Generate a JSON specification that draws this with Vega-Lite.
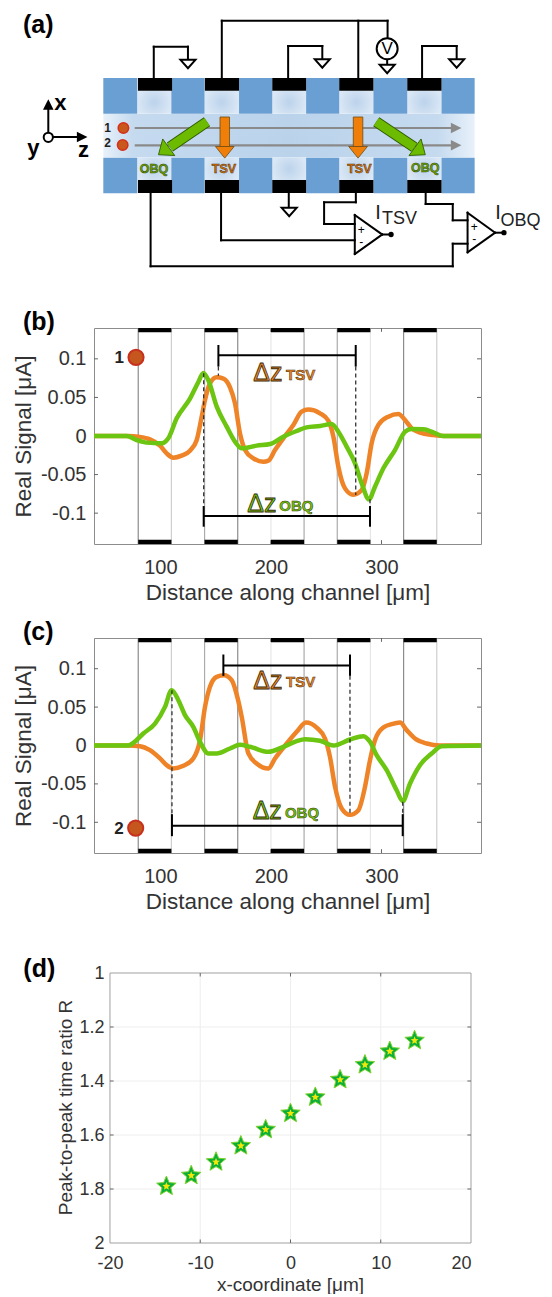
{
"$schema":"https://vega.github.io/schema/vega-lite/v6.json",
"padding":0,"bounds":"flush","spacing":94,
"config":{"font":"Liberation Sans","axis":{"grid":false,"domain":false,"ticks":false,"labelFont":"Liberation Sans","titleFont":"Liberation Sans","labelFontSize":20,"titleFontSize":22.5,"titleFontWeight":"normal","labelColor":"#333333","titleColor":"#333333","labelPadding":8}},
"datasets":{
"edges":[{"x":80,"x2":80,"y":-0.14,"y2":0.14,"tone":"dark"},{"x":110,"x2":110,"y":-0.14,"y2":0.14,"tone":"light"},{"x":140,"x2":140,"y":-0.14,"y2":0.14,"tone":"mid"},{"x":170,"x2":170,"y":-0.14,"y2":0.14,"tone":"dark"},{"x":200,"x2":200,"y":-0.14,"y2":0.14,"tone":"faint"},{"x":230,"x2":230,"y":-0.14,"y2":0.14,"tone":"mid"},{"x":260,"x2":260,"y":-0.14,"y2":0.14,"tone":"mid"},{"x":290,"x2":290,"y":-0.14,"y2":0.14,"tone":"faint"},{"x":320,"x2":320,"y":-0.14,"y2":0.14,"tone":"dark"},{"x":350,"x2":350,"y":-0.14,"y2":0.14,"tone":"light"}],
"bars":[{"x":80,"x2":110,"y":0.1345,"y2":0.14},{"x":140,"x2":170,"y":0.1345,"y2":0.14},{"x":200,"x2":230,"y":0.1345,"y2":0.14},{"x":260,"x2":290,"y":0.1345,"y2":0.14},{"x":320,"x2":350,"y":0.1345,"y2":0.14},{"x":80,"x2":110,"y":-0.14,"y2":-0.1345},{"x":140,"x2":170,"y":-0.14,"y2":-0.1345},{"x":200,"x2":230,"y":-0.14,"y2":-0.1345},{"x":260,"x2":290,"y":-0.14,"y2":-0.1345},{"x":320,"x2":350,"y":-0.14,"y2":-0.1345}],
"signalTicks":[{"x":40,"x2":43.6,"y":-0.1,"y2":-0.1},{"x":40,"x2":43.6,"y":-0.05,"y2":-0.05},{"x":40,"x2":43.6,"y":0,"y2":0},{"x":40,"x2":43.6,"y":0.05,"y2":0.05},{"x":40,"x2":43.6,"y":0.1,"y2":0.1},{"x":386.4,"x2":390,"y":-0.1,"y2":-0.1},{"x":386.4,"x2":390,"y":-0.05,"y2":-0.05},{"x":386.4,"x2":390,"y":0,"y2":0},{"x":386.4,"x2":390,"y":0.05,"y2":0.05},{"x":386.4,"x2":390,"y":0.1,"y2":0.1},{"x":100,"x2":100,"y":0.14,"y2":0.135},{"x":200,"x2":200,"y":0.14,"y2":0.135},{"x":300,"x2":300,"y":0.14,"y2":0.135},{"x":100,"x2":100,"y":-0.14,"y2":-0.135},{"x":200,"x2":200,"y":-0.14,"y2":-0.135},{"x":300,"x2":300,"y":-0.14,"y2":-0.135}],
"curveB":[
{"series":"TSV","x":40,"y":0},{"series":"TSV","x":71.05,"y":0},{"series":"TSV","x":80.1,"y":-0.0009},{"series":"TSV","x":90.6,"y":-0.0043},{"series":"TSV","x":99.7,"y":-0.0125},{"series":"TSV","x":105.7,"y":-0.0225},{"series":"TSV","x":111.8,"y":-0.0281},{"series":"TSV","x":119.3,"y":-0.0255},{"series":"TSV","x":126.8,"y":-0.019},{"series":"TSV","x":132.9,"y":-0.0052},{"series":"TSV","x":137.4,"y":0.0251},{"series":"TSV","x":140.4,"y":0.0467},{"series":"TSV","x":144.9,"y":0.0683},{"series":"TSV","x":150.9,"y":0.0761},{"series":"TSV","x":157,"y":0.0744},{"series":"TSV","x":163,"y":0.0631},{"series":"TSV","x":167.5,"y":0.0424},{"series":"TSV","x":172,"y":0.0035},{"series":"TSV","x":176.6,"y":-0.0182},{"series":"TSV","x":184.1,"y":-0.0289},{"series":"TSV","x":193.2,"y":-0.0333},{"series":"TSV","x":197.7,"y":-0.032},{"series":"TSV","x":203.7,"y":-0.0182},{"series":"TSV","x":211.2,"y":-0.003},{"series":"TSV","x":220.3,"y":0.0143},{"series":"TSV","x":227.8,"y":0.0316},{"series":"TSV","x":233.8,"y":0.0342},{"series":"TSV","x":244.4,"y":0.0294},{"series":"TSV","x":251.9,"y":0.0199},{"series":"TSV","x":256.5,"y":-0.0009},{"series":"TSV","x":261,"y":-0.0398},{"series":"TSV","x":267,"y":-0.0679},{"series":"TSV","x":274.5,"y":-0.0761},{"series":"TSV","x":282.1,"y":-0.0701},{"series":"TSV","x":286.6,"y":-0.0484},{"series":"TSV","x":291.1,"y":-0.0095},{"series":"TSV","x":297.2,"y":0.0143},{"series":"TSV","x":306.2,"y":0.0251},{"series":"TSV","x":315.2,"y":0.0285},{"series":"TSV","x":321.3,"y":0.0208},{"series":"TSV","x":327.3,"y":0.0099},{"series":"TSV","x":334.8,"y":0.0043},{"series":"TSV","x":346.9,"y":0.0013},{"series":"TSV","x":356,"y":0},{"series":"TSV","x":390,"y":0},
{"series":"OBQ","x":40,"y":0},{"series":"OBQ","x":69.5,"y":0},{"series":"OBQ","x":78.6,"y":-0.0052},{"series":"OBQ","x":87.6,"y":-0.0086},{"series":"OBQ","x":101.2,"y":-0.0095},{"series":"OBQ","x":107.2,"y":-0.003},{"series":"OBQ","x":114.8,"y":0.0229},{"series":"OBQ","x":126.8,"y":0.0484},{"series":"OBQ","x":134.4,"y":0.07},{"series":"OBQ","x":138.9,"y":0.0817},{"series":"OBQ","x":143.4,"y":0.0722},{"series":"OBQ","x":151,"y":0.0381},{"series":"OBQ","x":160,"y":0.0121},{"series":"OBQ","x":167.5,"y":-0.0073},{"series":"OBQ","x":173.6,"y":-0.016},{"series":"OBQ","x":187.1,"y":-0.0125},{"series":"OBQ","x":199.2,"y":-0.0104},{"series":"OBQ","x":211.2,"y":-0.0009},{"series":"OBQ","x":223.3,"y":0.0065},{"series":"OBQ","x":232.3,"y":0.0112},{"series":"OBQ","x":244.4,"y":0.013},{"series":"OBQ","x":254.9,"y":0.0156},{"series":"OBQ","x":261,"y":0.0056},{"series":"OBQ","x":268.5,"y":-0.0138},{"series":"OBQ","x":276.1,"y":-0.0354},{"series":"OBQ","x":282.1,"y":-0.0614},{"series":"OBQ","x":288.7,"y":-0.0821},{"series":"OBQ","x":294.1,"y":-0.0657},{"series":"OBQ","x":301.7,"y":-0.0419},{"series":"OBQ","x":312.2,"y":-0.0182},{"series":"OBQ","x":321.3,"y":0.0056},{"series":"OBQ","x":327.3,"y":0.0091},{"series":"OBQ","x":337.9,"y":0.0086},{"series":"OBQ","x":346.9,"y":0.0047},{"series":"OBQ","x":356,"y":0},{"series":"OBQ","x":390,"y":0}],
"curveC":[
{"series":"TSV","x":40,"y":0},{"series":"TSV","x":71.05,"y":0},{"series":"TSV","x":81.6,"y":-0.0009},{"series":"TSV","x":90.6,"y":-0.0061},{"series":"TSV","x":99.7,"y":-0.0169},{"series":"TSV","x":105.7,"y":-0.0256},{"series":"TSV","x":111.8,"y":-0.0299},{"series":"TSV","x":120.8,"y":-0.0265},{"series":"TSV","x":129.8,"y":-0.0169},{"series":"TSV","x":135.9,"y":0.0069},{"series":"TSV","x":140.4,"y":0.0503},{"series":"TSV","x":144.9,"y":0.0764},{"series":"TSV","x":150.9,"y":0.0894},{"series":"TSV","x":157.6,"y":0.0916},{"series":"TSV","x":164.5,"y":0.0851},{"series":"TSV","x":169.6,"y":0.0634},{"series":"TSV","x":173.6,"y":0.0373},{"series":"TSV","x":179.6,"y":-0.0104},{"series":"TSV","x":187.1,"y":-0.0234},{"series":"TSV","x":197.7,"y":-0.0299},{"series":"TSV","x":203.7,"y":-0.0169},{"series":"TSV","x":214.3,"y":0.0026},{"series":"TSV","x":223.3,"y":0.0178},{"series":"TSV","x":231.7,"y":0.0299},{"series":"TSV","x":241.4,"y":0.0234},{"series":"TSV","x":248.9,"y":0.0091},{"series":"TSV","x":253.4,"y":-0.0148},{"series":"TSV","x":258,"y":-0.0538},{"series":"TSV","x":264,"y":-0.082},{"series":"TSV","x":271.5,"y":-0.0903},{"series":"TSV","x":279.1,"y":-0.0842},{"series":"TSV","x":285.1,"y":-0.0538},{"series":"TSV","x":289.6,"y":-0.0191},{"series":"TSV","x":294.1,"y":0.0069},{"series":"TSV","x":301.7,"y":0.0234},{"series":"TSV","x":309.2,"y":0.0278},{"series":"TSV","x":316.8,"y":0.0299},{"series":"TSV","x":322.8,"y":0.02},{"series":"TSV","x":330.3,"y":0.0091},{"series":"TSV","x":340.9,"y":0.0026},{"series":"TSV","x":352.9,"y":0},{"series":"TSV","x":390,"y":0},
{"series":"OBQ","x":40,"y":0},{"series":"OBQ","x":71.05,"y":0},{"series":"OBQ","x":75.6,"y":0.0035},{"series":"OBQ","x":84.6,"y":0.0156},{"series":"OBQ","x":95.2,"y":0.0286},{"series":"OBQ","x":104.2,"y":0.0503},{"series":"OBQ","x":110.2,"y":0.072},{"series":"OBQ","x":116.3,"y":0.059},{"series":"OBQ","x":122.3,"y":0.0395},{"series":"OBQ","x":129.8,"y":0.0243},{"series":"OBQ","x":135.9,"y":0.0048},{"series":"OBQ","x":143.4,"y":-0.0104},{"series":"OBQ","x":150.9,"y":-0.0104},{"series":"OBQ","x":163,"y":-0.0039},{"series":"OBQ","x":172,"y":0.0009},{"series":"OBQ","x":181.1,"y":-0.0017},{"series":"OBQ","x":197.7,"y":-0.0082},{"series":"OBQ","x":211.2,"y":-0.0017},{"series":"OBQ","x":223.3,"y":0.0056},{"series":"OBQ","x":230.8,"y":0.0082},{"series":"OBQ","x":244.4,"y":0.0061},{"series":"OBQ","x":256.5,"y":0},{"series":"OBQ","x":271.5,"y":0.0078},{"series":"OBQ","x":283.6,"y":0.0122},{"series":"OBQ","x":289.6,"y":0.0048},{"series":"OBQ","x":295.6,"y":-0.0126},{"series":"OBQ","x":304.7,"y":-0.0321},{"series":"OBQ","x":313.7,"y":-0.0582},{"series":"OBQ","x":319.2,"y":-0.0725},{"series":"OBQ","x":325.8,"y":-0.0495},{"series":"OBQ","x":334.8,"y":-0.0256},{"series":"OBQ","x":345.4,"y":-0.0104},{"series":"OBQ","x":354.4,"y":-0.0009},{"series":"OBQ","x":390,"y":0}],
"wires":[{"x":145.7,"y":78,"x2":145.7,"y2":46.7},{"x":145.7,"y":46.7,"x2":178,"y2":46.7},{"x":178,"y":46.7,"x2":178,"y2":60},{"x":272.7,"y":78,"x2":272.7,"y2":46},{"x":272.7,"y":46,"x2":305,"y2":46},{"x":305,"y":46,"x2":305,"y2":59.3},{"x":399.3,"y":78,"x2":399.3,"y2":46},{"x":399.3,"y":46,"x2":432,"y2":46},{"x":432,"y":46,"x2":432,"y2":59.3},{"x":210,"y":78,"x2":210,"y2":20.7},{"x":210,"y":20.7,"x2":366.7,"y2":20.7},{"x":366.7,"y":20.7,"x2":366.7,"y2":38},{"x":339,"y":78,"x2":339,"y2":20.7},{"x":366.3,"y":60,"x2":366.3,"y2":65},{"x":273.3,"y":193,"x2":273.3,"y2":207.3},{"x":142.7,"y":193,"x2":142.7,"y2":266.3},{"x":142.7,"y":266.3,"x2":428.3,"y2":266.3},{"x":428.3,"y":266.3,"x2":428.3,"y2":243.7},{"x":428.3,"y":243.7,"x2":442.3,"y2":243.7},{"x":209.3,"y":193,"x2":209.3,"y2":240.3},{"x":209.3,"y":240.3,"x2":335.7,"y2":240.3},{"x":336.7,"y":193,"x2":336.7,"y2":202.3},{"x":336.7,"y":202.3,"x2":306.7,"y2":202.3},{"x":306.7,"y":202.3,"x2":306.7,"y2":224},{"x":306.7,"y":224,"x2":335.7,"y2":224},{"x":402.7,"y":193,"x2":402.7,"y2":204},{"x":402.7,"y":204,"x2":428.3,"y2":204},{"x":428.3,"y":204,"x2":428.3,"y2":220.3},{"x":428.3,"y":220.3,"x2":442.3,"y2":220.3},{"x":335.7,"y":215,"x2":335.7,"y2":254},{"x":335.7,"y":215,"x2":361.7,"y2":234.5},{"x":335.7,"y":254,"x2":361.7,"y2":234.5},{"x":361.7,"y":234.5,"x2":370,"y2":234.5},{"x":442.3,"y":212.7,"x2":442.3,"y2":252.3},{"x":442.3,"y":212.7,"x2":468.3,"y2":232.7},{"x":442.3,"y":252.3,"x2":468.3,"y2":232.7},{"x":468.3,"y":232.7,"x2":476.7,"y2":232.7},{"x":46,"y":137,"x2":46,"y2":108},{"x":46,"y":137,"x2":75,"y2":137}],
"frameD":[{"x":-20,"y":1,"x2":20,"y2":1},{"x":20,"y":1,"x2":20,"y2":2},{"x":-20,"y":2,"x2":20,"y2":2},{"x":-20,"y":1,"x2":-20,"y2":2}],
"gridD":[{"x":-10,"y":1,"x2":-10,"y2":2},{"x":0,"y":1,"x2":0,"y2":2},{"x":10,"y":1,"x2":10,"y2":2},{"x":-20,"y":1.2,"x2":20,"y2":1.2},{"x":-20,"y":1.4,"x2":20,"y2":1.4},{"x":-20,"y":1.6,"x2":20,"y2":1.6},{"x":-20,"y":1.8,"x2":20,"y2":1.8}],
"ticksD":[{"x":-20,"y":1.2,"x2":-19.6,"y2":1.2},{"x":-20,"y":1.4,"x2":-19.6,"y2":1.4},{"x":-20,"y":1.6,"x2":-19.6,"y2":1.6},{"x":-20,"y":1.8,"x2":-19.6,"y2":1.8},{"x":20,"y":1.2,"x2":19.6,"y2":1.2},{"x":20,"y":1.4,"x2":19.6,"y2":1.4},{"x":20,"y":1.6,"x2":19.6,"y2":1.6},{"x":20,"y":1.8,"x2":19.6,"y2":1.8},{"x":-10,"y":1,"x2":-10,"y2":1.013},{"x":0,"y":1,"x2":0,"y2":1.013},{"x":10,"y":1,"x2":10,"y2":1.013},{"x":-10,"y":2,"x2":-10,"y2":1.987},{"x":0,"y":2,"x2":0,"y2":1.987},{"x":10,"y":2,"x2":10,"y2":1.987}],
"stars":[{"x":-13.75,"y":1.79},{"x":-11,"y":1.75},{"x":-8.25,"y":1.7},{"x":-5.5,"y":1.64},{"x":-2.75,"y":1.58},{"x":0,"y":1.52},{"x":2.75,"y":1.46},{"x":5.5,"y":1.395},{"x":8.25,"y":1.34},{"x":11,"y":1.29},{"x":13.75,"y":1.25}]
},
"vconcat":[
{"width":387,"height":234,"view":{"stroke":null},
"encoding":{"x":{"field":"x","type":"quantitative","scale":{"domain":[89.2,455],"nice":false,"zero":false},"axis":null},"y":{"field":"y","type":"quantitative","scale":{"domain":[0,234],"nice":false,"zero":false,"reverse":true},"axis":null}},
"layer":[
{"data":{"values":[{"x":0.4,"y":0}]},"mark":{"type":"point","size":0,"opacity":0}},
{"data":{"values":[{"x":98,"x2":449,"y":114,"y2":157.5}]},"mark":{"type":"rect","fill":{"gradient":"linear","x1":0,"x2":1,"y1":0,"y2":0,"stops":[{"offset":0,"color":"#e8f1fa"},{"offset":0.08,"color":"#c5daef"},{"offset":0.5,"color":"#bad3eb"},{"offset":0.9,"color":"#c5daef"},{"offset":1,"color":"#e8f1fa"}]}},"encoding":{"x2":{"field":"x2"},"y2":{"field":"y2"}}},
{"data":{"values":[{"x":130,"x2":162.3,"y":90.7,"y2":113.7},{"x":193.7,"x2":226.3,"y":90.7,"y2":113.7},{"x":257.7,"x2":289.7,"y":90.7,"y2":113.7},{"x":321,"x2":353.3,"y":90.7,"y2":113.7},{"x":385.3,"x2":417.7,"y":90.7,"y2":113.7},{"x":130,"x2":162.3,"y":157.7,"y2":180},{"x":193.7,"x2":226.3,"y":157.7,"y2":180},{"x":257.7,"x2":289.7,"y":157.7,"y2":180},{"x":321,"x2":353.3,"y":157.7,"y2":180},{"x":385.3,"x2":417.7,"y":157.7,"y2":180}]},"mark":{"type":"rect","fill":{"gradient":"radial","stops":[{"offset":0,"color":"#bcd3eb"},{"offset":1,"color":"#dae7f5"}]}},"encoding":{"x2":{"field":"x2"},"y2":{"field":"y2"}}},
{"data":{"values":[{"x":98,"x2":130,"y":78,"y2":113.7},{"x":162.3,"x2":193.7,"y":78,"y2":113.7},{"x":226.3,"x2":257.7,"y":78,"y2":113.7},{"x":289.7,"x2":321,"y":78,"y2":113.7},{"x":353.3,"x2":385.3,"y":78,"y2":113.7},{"x":417.7,"x2":449,"y":78,"y2":113.7},{"x":98,"x2":130,"y":157.7,"y2":193.3},{"x":162.3,"x2":193.7,"y":157.7,"y2":193.3},{"x":226.3,"x2":257.7,"y":157.7,"y2":193.3},{"x":289.7,"x2":321,"y":157.7,"y2":193.3},{"x":353.3,"x2":385.3,"y":157.7,"y2":193.3},{"x":417.7,"x2":449,"y":157.7,"y2":193.3}]},"mark":{"type":"rect","fill":"#6a9fd3"},"encoding":{"x2":{"field":"x2"},"y2":{"field":"y2"}}},
{"data":{"values":[{"x":130.7,"x2":163,"y":78,"y2":90.7},{"x":194,"x2":226.3,"y":78,"y2":90.7},{"x":257.7,"x2":289.7,"y":78,"y2":90.7},{"x":321,"x2":353.3,"y":78,"y2":90.7},{"x":385.3,"x2":417.7,"y":78,"y2":90.7},{"x":130.7,"x2":163,"y":180,"y2":193},{"x":194,"x2":226.3,"y":180,"y2":193},{"x":257.7,"x2":289.7,"y":180,"y2":193},{"x":321,"x2":353.3,"y":180,"y2":193},{"x":385.3,"x2":417.7,"y":180,"y2":193}]},"mark":{"type":"rect","fill":"#000000"},"encoding":{"x2":{"field":"x2"},"y2":{"field":"y2"}}},
{"data":{"name":"wires"},"mark":{"type":"rule","stroke":"#000000","strokeWidth":2,"strokeCap":"square"},"encoding":{"x2":{"field":"x2"},"y2":{"field":"y2"}}},
{"data":{"values":[{"x":127.7,"x2":428,"y":128,"y2":128},{"x":127.7,"x2":428,"y":145.3,"y2":145.3}]},"mark":{"type":"rule","stroke":"#8a8a8a","strokeWidth":2.2},"encoding":{"x2":{"field":"x2"},"y2":{"field":"y2"}}},
{"data":{"values":[{"x":431.5,"y":128,"angle":270},{"x":431.5,"y":145.3,"angle":270}]},"mark":{"type":"point","filled":true,"opacity":1,"fill":"#8a8a8a","stroke":null,"size":112,"shape":"M-1,-1L1,-1L0,1Z"},"encoding":{"angle":{"field":"angle","type":"quantitative","scale":null}}},
{"data":{"values":[{"x":46,"y":104.5,"angle":180},{"x":78,"y":137,"angle":270}]},"mark":{"type":"point","filled":true,"opacity":1,"fill":"#000000","stroke":null,"size":112,"shape":"M-1,-1L1,-1L0,1Z"},"encoding":{"angle":{"field":"angle","type":"quantitative","scale":null}}},
{"data":{"values":[{"x":178,"y":64},{"x":305,"y":63.5},{"x":432,"y":63.5},{"x":366.3,"y":69},{"x":273.7,"y":212}]},"mark":{"type":"point","filled":true,"opacity":1,"fill":"#ffffff","stroke":"#000000","strokeWidth":2,"size":225,"shape":"M-1,-0.56L1,-0.56L0,0.56Z"}},
{"data":{"values":[{"x":208.3,"x2":217.3,"y":117,"y2":146.7},{"x":334.3,"x2":343.3,"y":117,"y2":146.7}]},"mark":{"type":"rect","fill":"#f07f09","stroke":"#6f4a10","strokeWidth":0.8},"encoding":{"x2":{"field":"x2"},"y2":{"field":"y2"}}},
{"data":{"values":[{"x":212.8,"y":152.3},{"x":338.8,"y":152.3}]},"mark":{"type":"point","filled":true,"opacity":1,"fill":"#f07f09","stroke":"#6f4a10","strokeWidth":0.8,"size":350,"shape":"M-1,-0.62L1,-0.62L0,0.62Z"}},
{"data":{"values":[{"x":196,"y":121.7,"x2":161,"y2":147},{"x":356,"y":121.7,"x2":392,"y2":147.3}]},"mark":{"type":"rule","stroke":"#2f5a00","strokeWidth":11},"encoding":{"x2":{"field":"x2"},"y2":{"field":"y2"}}},
{"data":{"values":[{"x":196,"y":121.7,"x2":161,"y2":147},{"x":356,"y":121.7,"x2":392,"y2":147.3}]},"mark":{"type":"rule","stroke":"#6cbb00","strokeWidth":9},"encoding":{"x2":{"field":"x2"},"y2":{"field":"y2"}}},
{"data":{"values":[{"x":155,"y":151,"angle":54},{"x":397.5,"y":151,"angle":306}]},"mark":{"type":"point","filled":true,"opacity":1,"fill":"#6cbb00","stroke":"#2f5a00","strokeWidth":0.8,"size":420,"shape":"M-1,-0.62L1,-0.62L0,0.62Z"},"encoding":{"angle":{"field":"angle","type":"quantitative","scale":null}}},
{"data":{"values":[{"x":117,"y":128},{"x":116.3,"y":145}]},"mark":{"type":"point","filled":true,"opacity":1,"fill":"#c8581c","stroke":"#d5301c","strokeWidth":1.5,"size":110,"shape":"circle"}},
{"data":{"values":[{"x":366.3,"y":48.7}]},"mark":{"type":"point","filled":true,"opacity":1,"fill":"#ffffff","stroke":"#000000","strokeWidth":2,"size":440,"shape":"circle"}},
{"data":{"values":[{"x":46,"y":137.3}]},"mark":{"type":"point","filled":true,"opacity":1,"fill":"#ffffff","stroke":"#000000","strokeWidth":2,"size":85,"shape":"circle"}},
{"data":{"values":[{"x":370,"y":234.5},{"x":476.7,"y":232.7}]},"mark":{"type":"point","filled":true,"opacity":1,"fill":"#000000","stroke":null,"size":28,"shape":"circle"}},
{"data":{"values":[{"x":22,"y":25,"label":"(a)"}]},"mark":{"type":"text","align":"left","baseline":"middle","fontSize":25,"fontWeight":"bold","color":"#000000"},"encoding":{"text":{"field":"label"}}},
{"data":{"values":[{"x":57.3,"y":103,"label":"x"},{"x":32,"y":148,"label":"y"},{"x":79.3,"y":150,"label":"z"}]},"mark":{"type":"text","align":"center","baseline":"middle","fontSize":22,"fontWeight":"bold","color":"#000000"},"encoding":{"text":{"field":"label"}}},
{"data":{"values":[{"x":102,"y":128.3,"label":"1"},{"x":102,"y":143.3,"label":"2"}]},"mark":{"type":"text","align":"center","baseline":"middle","fontSize":12,"fontWeight":"bold","color":"#222222"},"encoding":{"text":{"field":"label"}}},
{"data":{"values":[{"x":366.3,"y":49,"label":"V"}]},"mark":{"type":"text","align":"center","baseline":"middle","fontSize":17,"color":"#000000"},"encoding":{"text":{"field":"label"}}},
{"data":{"values":[{"x":341.7,"y":230,"label":"+"},{"x":341.7,"y":241.5,"label":"-"},{"x":448.7,"y":227.3,"label":"+"},{"x":448.7,"y":239,"label":"-"}]},"mark":{"type":"text","align":"center","baseline":"middle","fontSize":12,"color":"#000000"},"encoding":{"text":{"field":"label"}}},
{"data":{"values":[{"x":146,"y":169.3,"label":"OBQ"},{"x":402.3,"y":167.7,"label":"OBQ"}]},"mark":{"type":"text","align":"center","baseline":"middle","fontSize":12.5,"fontWeight":"bold","color":"#6da000","stroke":"#2f4a10","strokeWidth":0.5},"encoding":{"text":{"field":"label"}}},
{"data":{"values":[{"x":212,"y":169,"label":"TSV"},{"x":340,"y":168.7,"label":"TSV"}]},"mark":{"type":"text","align":"center","baseline":"middle","fontSize":12.5,"fontWeight":"bold","color":"#d87008","stroke":"#4a3010","strokeWidth":0.5},"encoding":{"text":{"field":"label"}}},
{"data":{"values":[{"x":355,"y":213,"label":"I"},{"x":468.5,"y":213,"label":"I"}]},"mark":{"type":"text","align":"left","baseline":"middle","fontSize":20,"color":"#222222"},"encoding":{"text":{"field":"label"}}},
{"data":{"values":[{"x":361.5,"y":219,"label":"TSV"},{"x":473.5,"y":220.5,"label":"OBQ"}]},"mark":{"type":"text","align":"left","baseline":"middle","fontSize":18,"color":"#222222"},"encoding":{"text":{"field":"label"}}}
]},
{"width":387,"height":216,"view":{"stroke":"#8c8c8c"},
"encoding":{"x":{"field":"x","type":"quantitative","scale":{"domain":[40,390],"nice":false,"zero":false},"axis":{"values":[100,200,300],"title":"Distance along channel [μm]","labelPadding":13,"titlePadding":4}},"y":{"field":"y","type":"quantitative","scale":{"domain":[-0.14,0.14],"nice":false,"zero":false},"axis":{"values":[-0.1,-0.05,0,0.05,0.1],"labelExpr":"'' + datum.value","title":"Real Signal [μA]","titlePadding":5}}},
"layer":[
{"data":{"name":"edges"},"mark":{"type":"rule","strokeWidth":1.2},"encoding":{"x2":{"field":"x2"},"y2":{"field":"y2"},"stroke":{"field":"tone","type":"nominal","scale":{"domain":["dark","mid","light","faint"],"range":["#8c8c8c","#aaaaaa","#cfcfcf","#e6e6e6"]},"legend":null}}},
{"data":{"name":"signalTicks"},"mark":{"type":"rule","stroke":"#666666","strokeWidth":1},"encoding":{"x2":{"field":"x2"},"y2":{"field":"y2"}}},
{"data":{"name":"bars"},"mark":{"type":"rect","fill":"#000000"},"encoding":{"x2":{"field":"x2"},"y2":{"field":"y2"}}},
{"data":{"name":"curveB"},"mark":{"type":"line","strokeWidth":4.5,"interpolate":"monotone","strokeJoin":"round"},"encoding":{"color":{"field":"series","type":"nominal","scale":{"domain":["TSV","OBQ"],"range":["#ee8427","#6cc510"]},"legend":null}}},
{"data":{"values":[{"x":139.2,"y":0.0813,"x2":139.2,"y2":-0.0908},{"x":152.5,"y":0.09,"x2":152.5,"y2":0.078},{"x":276.7,"y":0.09,"x2":276.7,"y2":-0.0765},{"x":289.6,"y":-0.0821,"x2":289.6,"y2":-0.0908}]},"mark":{"type":"rule","stroke":"#333333","strokeWidth":1.3,"strokeDash":[4,3]},"encoding":{"x2":{"field":"x2"},"y2":{"field":"y2"}}},
{"data":{"values":[{"x":152.5,"y":0.1046,"x2":276.7,"y2":0.1046},{"x":152.5,"y":0.118,"x2":152.5,"y2":0.09},{"x":276.7,"y":0.118,"x2":276.7,"y2":0.09},{"x":139.2,"y":-0.1038,"x2":289.6,"y2":-0.1038},{"x":139.2,"y":-0.0908,"x2":139.2,"y2":-0.1176},{"x":289.6,"y":-0.0908,"x2":289.6,"y2":-0.1176}]},"mark":{"type":"rule","stroke":"#000000","strokeWidth":2},"encoding":{"x2":{"field":"x2"},"y2":{"field":"y2"}}},
{"data":{"values":[{"x":184.1,"y":0.0813,"label":"Δz","series":"TSV"},{"x":178.7,"y":-0.0882,"label":"Δz","series":"OBQ"}]},"mark":{"type":"text","align":"left","baseline":"middle","fontSize":25,"stroke":"#3a2a08","strokeWidth":0.8},"encoding":{"text":{"field":"label"},"color":{"field":"series","type":"nominal"}}},
{"data":{"values":[{"x":213.7,"y":0.0791,"label":"TSV","series":"TSV"},{"x":207.6,"y":-0.0908,"label":"OBQ","series":"OBQ"}]},"mark":{"type":"text","align":"left","baseline":"middle","fontSize":15,"fontWeight":"bold","stroke":"#3a2a08","strokeWidth":0.5},"encoding":{"text":{"field":"label"},"color":{"field":"series","type":"nominal"}}},
{"data":{"values":[{"x":78,"y":0.102}]},"mark":{"type":"point","filled":true,"opacity":1,"fill":"#c4561e","stroke":"#c8301e","strokeWidth":2,"size":230,"shape":"circle"}},
{"data":{"values":[{"x":62.9,"y":0.1007,"label":"1"}]},"mark":{"type":"text","align":"center","baseline":"middle","fontSize":17,"fontWeight":"bold","color":"#222222"},"encoding":{"text":{"field":"label"}}},
{"data":{"values":[{"x":-24.2,"y":0.1479,"label":"(b)"}]},"mark":{"type":"text","align":"left","baseline":"middle","fontSize":25,"fontWeight":"bold","color":"#000000"},"encoding":{"text":{"field":"label"}}}
]},
{"width":387,"height":215,"view":{"stroke":"#8c8c8c"},
"encoding":{"x":{"field":"x","type":"quantitative","scale":{"domain":[40,390],"nice":false,"zero":false},"axis":{"values":[100,200,300],"title":"Distance along channel [μm]","labelPadding":13,"titlePadding":4}},"y":{"field":"y","type":"quantitative","scale":{"domain":[-0.14,0.14],"nice":false,"zero":false},"axis":{"values":[-0.1,-0.05,0,0.05,0.1],"labelExpr":"'' + datum.value","title":"Real Signal [μA]","titlePadding":5}}},
"layer":[
{"data":{"name":"edges"},"mark":{"type":"rule","strokeWidth":1.2},"encoding":{"x2":{"field":"x2"},"y2":{"field":"y2"},"stroke":{"field":"tone","type":"nominal","scale":{"domain":["dark","mid","light","faint"],"range":["#8c8c8c","#aaaaaa","#cfcfcf","#e6e6e6"]},"legend":null}}},
{"data":{"name":"signalTicks"},"mark":{"type":"rule","stroke":"#666666","strokeWidth":1},"encoding":{"x2":{"field":"x2"},"y2":{"field":"y2"}}},
{"data":{"name":"bars"},"mark":{"type":"rect","fill":"#000000"},"encoding":{"x2":{"field":"x2"},"y2":{"field":"y2"}}},
{"data":{"name":"curveC"},"mark":{"type":"line","strokeWidth":4.5,"interpolate":"monotone","strokeJoin":"round"},"encoding":{"color":{"field":"series","type":"nominal","scale":{"domain":["TSV","OBQ"],"range":["#ee8427","#6cc510"]},"legend":null}}},
{"data":{"values":[{"x":110.5,"y":0.072,"x2":110.5,"y2":-0.0894},{"x":271.5,"y":0.0907,"x2":271.5,"y2":-0.0885},{"x":319.2,"y":-0.0734,"x2":319.2,"y2":-0.0894}]},"mark":{"type":"rule","stroke":"#333333","strokeWidth":1.3,"strokeDash":[4,3]},"encoding":{"x2":{"field":"x2"},"y2":{"field":"y2"}}},
{"data":{"values":[{"x":157,"y":0.1042,"x2":271.5,"y2":0.1042},{"x":157,"y":0.1185,"x2":157,"y2":0.0907},{"x":271.5,"y":0.1185,"x2":271.5,"y2":0.0907},{"x":110.5,"y":-0.1046,"x2":319.2,"y2":-0.1046},{"x":110.5,"y":-0.0894,"x2":110.5,"y2":-0.1181},{"x":319.2,"y":-0.0894,"x2":319.2,"y2":-0.1181}]},"mark":{"type":"rule","stroke":"#000000","strokeWidth":2},"encoding":{"x2":{"field":"x2"},"y2":{"field":"y2"}}},
{"data":{"values":[{"x":184.1,"y":0.0842,"label":"Δz","series":"TSV"},{"x":183.5,"y":-0.0855,"label":"Δz","series":"OBQ"}]},"mark":{"type":"text","align":"left","baseline":"middle","fontSize":25,"stroke":"#3a2a08","strokeWidth":0.8},"encoding":{"text":{"field":"label"},"color":{"field":"series","type":"nominal"}}},
{"data":{"values":[{"x":213.7,"y":0.0829,"label":"TSV","series":"TSV"},{"x":212.7,"y":-0.0877,"label":"OBQ","series":"OBQ"}]},"mark":{"type":"text","align":"left","baseline":"middle","fontSize":15,"fontWeight":"bold","stroke":"#3a2a08","strokeWidth":0.5},"encoding":{"text":{"field":"label"},"color":{"field":"series","type":"nominal"}}},
{"data":{"values":[{"x":77.7,"y":-0.1076}]},"mark":{"type":"point","filled":true,"opacity":1,"fill":"#c4561e","stroke":"#c8301e","strokeWidth":2,"size":230,"shape":"circle"}},
{"data":{"values":[{"x":62.6,"y":-0.1085,"label":"2"}]},"mark":{"type":"text","align":"center","baseline":"middle","fontSize":17,"fontWeight":"bold","color":"#222222"},"encoding":{"text":{"field":"label"}}},
{"data":{"values":[{"x":-24.2,"y":0.1478,"label":"(c)"}]},"mark":{"type":"text","align":"left","baseline":"middle","fontSize":25,"fontWeight":"bold","color":"#000000"},"encoding":{"text":{"field":"label"}}}
]},
{"width":377,"height":296,"view":{"stroke":null},
"encoding":{"x":{"field":"x","type":"quantitative","scale":{"domain":[-21.77,20],"nice":false,"zero":false},"axis":{"values":[-20,-10,0,10,20],"labelExpr":"'' + datum.value","title":"x-coordinate [μm]","titleFontSize":19,"titleX":196,"labelFontSize":18,"labelPadding":11,"titlePadding":3}},"y":{"field":"y","type":"quantitative","scale":{"domain":[0.9037,2],"nice":false,"zero":false,"reverse":true},"axis":{"values":[1,1.2,1.4,1.6,1.8,2],"labelExpr":"'' + datum.value","title":"Peak-to-peak time ratio R","titleFontSize":19,"titleY":160,"offset":-16,"labelFontSize":18,"labelPadding":6,"titlePadding":3}}},
"layer":[
{"data":{"name":"gridD"},"mark":{"type":"rule","stroke":"#eeeeee","strokeWidth":1},"encoding":{"x2":{"field":"x2"},"y2":{"field":"y2"}}},
{"data":{"name":"frameD"},"mark":{"type":"rule","stroke":"#a0a0a0","strokeWidth":1},"encoding":{"x2":{"field":"x2"},"y2":{"field":"y2"}}},
{"data":{"name":"ticksD"},"mark":{"type":"rule","stroke":"#666666","strokeWidth":1},"encoding":{"x2":{"field":"x2"},"y2":{"field":"y2"}}},
{"data":{"name":"stars"},"mark":{"type":"point","filled":true,"opacity":1,"fill":"#0aae3a","stroke":"#7ed32c","strokeWidth":1,"size":420,"shape":"M0,-1L0.265,-0.364L0.951,-0.309L0.428,0.139L0.588,0.809L0,0.45L-0.588,0.809L-0.428,0.139L-0.951,-0.309L-0.265,-0.364Z"}},
{"data":{"name":"stars"},"mark":{"type":"point","filled":true,"opacity":1,"fill":"#f2e60a","stroke":null,"size":70,"shape":"M0,-1L0.265,-0.364L0.951,-0.309L0.428,0.139L0.588,0.809L0,0.45L-0.588,0.809L-0.428,0.139L-0.951,-0.309L-0.265,-0.364Z"}},
{"data":{"values":[{"x":-29.6,"y":0.984,"label":"(d)"}]},"mark":{"type":"text","align":"left","baseline":"middle","fontSize":25,"fontWeight":"bold","color":"#000000"},"encoding":{"text":{"field":"label"}}}
]}
]
}
